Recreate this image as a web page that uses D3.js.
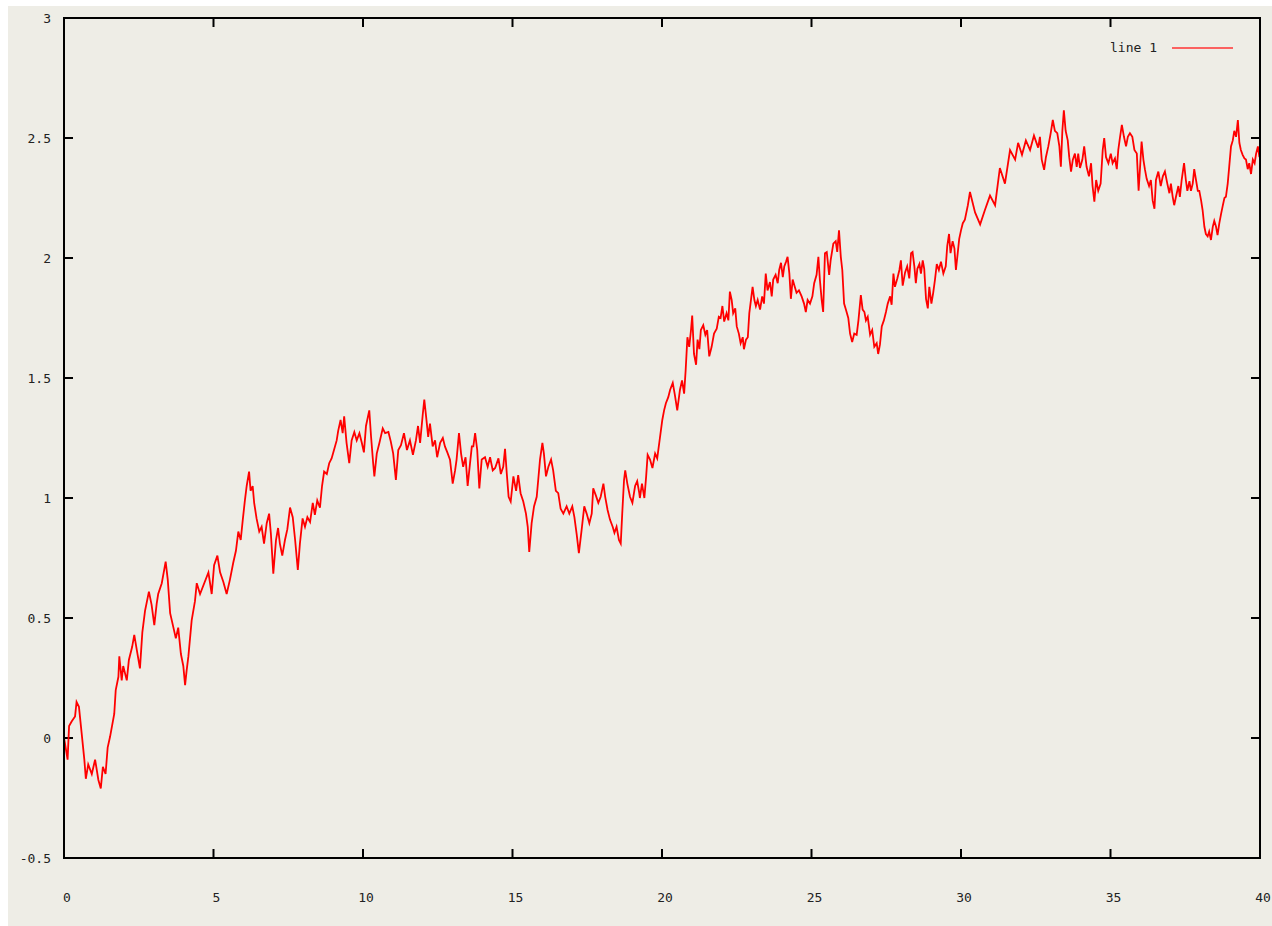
<!DOCTYPE html>
<html><head><meta charset="utf-8">
<script src="https://cdn.jsdelivr.net/npm/d3@7"></script>
<style>html,body{margin:0;padding:0;background:#fff;}svg{display:block;}</style>
</head><body>
<svg id="c" width="1272" height="926"></svg>
<script>
const xTicks = [0,5,10,15,20,25,30,35,40];
const yTicks = [-0.5,0,0.5,1,1.5,2,2.5,3];
const seriesName = "line 1";
const xs = [0,0.03,0.12,0.17,0.26,0.37,0.42,0.50,0.59,0.68,0.73,0.81,0.93,1.04,1.15,1.23,1.30,1.39,1.46,1.54,1.68,1.73,1.82,1.85,1.93,1.98,2.10,2.17,2.28,2.35,2.43,2.54,2.62,2.71,2.84,2.93,3.02,3.10,3.15,3.27,3.40,3.47,3.55,3.66,3.74,3.82,3.91,3.99,4.05,4.10,4.16,4.27,4.38,4.44,
4.55,4.83,4.94,5.02,5.13,5.22,5.33,5.44,5.55,5.66,5.75,5.83,5.91,5.98,6.05,6.11,6.19,6.24,6.31,6.36,6.44,6.53,6.61,6.69,6.78,6.86,6.92,7.00,7.09,7.16,7.22,7.30,7.39,7.47,7.56,7.65,7.73,7.82,7.89,7.98,8.06,8.14,8.23,8.32,8.39,8.47,8.56,8.63,8.70,8.79,8.87,8.95,9.03,9.12,9.17,9.25,9.32,9.37,9.45,9.54,9.62,9.71,9.79,9.88,9.96,10.03,10.10,10.21,10.27,10.34,10.38,10.46,10.55,10.66,10.74,10.85,10.93,11.01,11.10,11.18,
11.27,11.37,11.47,11.57,11.67,11.77,11.84,
11.91,12.00,12.05,12.11,12.18,12.24,12.33,12.41,12.48,12.58,12.67,12.74,12.82,12.91,13.00,13.08,13.13,13.21,13.28,13.35,13.43,13.50,13.58,13.64,13.69,13.75,13.82,13.89,13.97,14.08,14.17,14.25,14.34,14.42,14.53,14.61,14.69,14.75,14.81,14.87,14.94,15.03,15.12,15.19,15.27,15.36,15.45,15.51,15.56,15.64,15.72,15.81,15.86,15.92,16.00,16.05,16.12,16.20,16.29,16.36,16.45,16.53,16.61,16.70,16.81,16.90,17.00,17.07,17.15,17.22,17.31,17.40,17.48,17.57,17.65,17.70,17.79,17.87,17.95,18.04,18.10,18.18,18.26,18.35,18.41,18.48,18.56,18.62,18.67,18.73,18.77,18.84,18.93,19.01,19.10,19.17,19.24,
19.26,19.33,19.41,19.47,19.52,19.60,19.68,19.77,19.84,19.93,20.01,20.07,20.13,20.21,20.27,20.36,20.43,20.51,20.60,20.67,20.74,20.79,20.85,20.91,20.97,21.01,21.07,21.14,21.19,21.25,21.30,21.38,21.45,21.51,21.58,21.66,21.74,21.83,21.90,21.96,22.02,22.08,22.16,22.22,22.27,22.33,22.38,22.45,22.50,22.57,22.63,22.70,22.74,22.81,22.87,22.92,22.98,23.03,23.09,23.14,23.20,23.28,23.35,23.41,23.47,23.53,23.61,23.67,23.72,23.80,23.87,23.92,23.98,24.04,24.09,24.15,24.20,24.26,24.31,24.37,24.44,24.50,24.58,24.67,24.75,24.81,24.87,24.95,25.03,25.09,25.17,25.23,25.28,25.34,25.39,25.45,25.51,25.59,25.64,25.73,25.81,25.86,25.92,25.98,26.03,26.09,26.15,26.23,26.29,26.36,26.43,26.51,26.57,26.65,26.71,26.77,26.82,26.88,26.96,27.03,27.10,27.18,27.23,27.29,27.35,27.42,27.49,27.55,27.63,27.68,27.74,27.79,27.87,27.94,27.99,28.05,28.13,28.20,28.27,28.33,28.38,28.44,28.49,28.54,28.61,28.66,28.72,28.77,28.83,28.89,28.94,29.01,29.07,29.13,29.19,29.26,29.33,29.41,29.49,29.54,29.60,29.65,29.72,29.78,29.83,29.89,29.94,30.00,30.06,30.13,
30.23,30.30,30.47,30.64,30.80,30.97,31.14,31.30,31.47,31.64,31.81,31.91,32.04,32.17,32.31,32.44,32.58,
32.64,32.70,32.78,32.84,32.92,33.00,33.07,33.14,33.22,33.29,33.34,33.39,33.44,33.50,33.57,33.62,33.68,33.74,33.81,33.87,33.92,33.98,34.06,34.12,34.20,34.28,34.35,34.40,34.46,34.52,34.59,34.67,34.74,34.79,34.85,34.93,35.01,35.07,35.15,35.21,35.26,35.32,35.38,35.45,35.52,35.58,35.65,35.73,35.80,35.88,35.94,35.99,36.04,36.10,36.15,36.21,36.29,36.35,36.41,36.47,36.52,36.60,36.68,36.75,36.82,36.90,36.97,37.02,37.08,37.13,37.19,37.27,37.32,37.38,37.46,37.52,37.57,37.64,37.69,37.75,37.80,37.86,37.92,37.97,38.03,38.08,38.14,38.19,38.25,38.30,38.36,38.42,38.47,38.53,38.58,38.64,38.70,38.75,38.81,38.86,38.92,38.97,39.03,39.09,39.14,39.20,39.26,39.31,39.36,39.42,39.48,39.53,39.59,39.64,39.70,39.76,39.82,39.87,39.93,39.98];
const ys = [0,-0.02,-0.09,0.05,0.07,0.09,0.15,0.13,0.02,-0.09,-0.17,-0.11,-0.15,-0.09,-0.175,-0.21,-0.12,-0.15,-0.04,0.005,0.10,0.20,0.255,0.34,0.24,0.30,0.24,0.325,0.38,0.43,0.37,0.29,0.44,0.53,0.61,0.555,0.47,0.56,0.60,0.645,0.735,0.66,0.52,0.46,0.415,0.46,0.35,0.30,0.22,0.28,0.34,0.49,0.57,0.645,
0.60,0.69,0.60,0.72,0.76,0.69,0.65,0.60,0.66,0.73,0.78,0.86,0.825,0.91,0.99,1.05,1.11,1.03,1.05,0.98,0.915,0.86,0.88,0.81,0.895,0.935,0.85,0.685,0.825,0.875,0.81,0.76,0.825,0.87,0.96,0.92,0.825,0.70,0.81,0.915,0.88,0.92,0.90,0.98,0.93,0.99,0.96,1.05,1.11,1.10,1.145,1.165,1.20,1.24,1.28,1.325,1.27,1.34,1.23,1.145,1.24,1.275,1.24,1.27,1.23,1.19,1.30,1.365,1.255,1.145,1.09,1.185,1.23,1.29,1.27,1.275,1.235,1.185,1.075,1.20,
1.22,1.27,1.20,1.24,1.18,1.24,1.30,
1.23,1.35,1.41,1.34,1.255,1.31,1.215,1.24,1.17,1.23,1.25,1.215,1.19,1.16,1.06,1.115,1.16,1.27,1.185,1.13,1.17,1.05,1.145,1.215,1.215,1.27,1.20,1.04,1.16,1.17,1.13,1.17,1.115,1.125,1.165,1.10,1.13,1.205,1.10,1.005,0.985,1.09,1.03,1.095,1.02,0.985,0.935,0.88,0.775,0.895,0.965,1.005,1.075,1.16,1.23,1.185,1.09,1.13,1.16,1.115,1.03,1.02,0.955,0.935,0.965,0.935,0.965,0.92,0.845,0.77,0.865,0.965,0.935,0.895,0.935,1.04,1.01,0.98,1.005,1.06,1.005,0.95,0.91,0.88,0.855,0.88,0.825,0.81,0.935,1.075,1.115,1.06,1.005,0.98,1.05,1.07,1.02,
1.00,1.06,1.00,1.09,1.18,1.16,1.125,1.185,1.165,1.25,1.325,1.365,1.395,1.42,1.45,1.48,1.43,1.365,1.45,1.49,1.435,1.53,1.67,1.63,1.70,1.76,1.60,1.555,1.66,1.62,1.70,1.72,1.68,1.70,1.59,1.63,1.685,1.705,1.755,1.75,1.80,1.735,1.77,1.74,1.86,1.825,1.77,1.79,1.715,1.685,1.645,1.67,1.62,1.66,1.67,1.77,1.83,1.88,1.825,1.80,1.825,1.785,1.84,1.81,1.935,1.865,1.90,1.84,1.91,1.93,1.895,1.95,1.98,1.92,1.965,1.985,2.005,1.935,1.83,1.91,1.88,1.855,1.865,1.84,1.81,1.775,1.825,1.81,1.84,1.895,1.93,2.005,1.91,1.825,1.775,2.02,2.025,1.93,1.99,2.06,2.07,2.025,2.115,2.005,1.95,1.81,1.785,1.75,1.685,1.65,1.685,1.68,1.74,1.845,1.785,1.775,1.74,1.755,1.68,1.70,1.63,1.645,1.60,1.64,1.715,1.74,1.775,1.81,1.84,1.805,1.935,1.88,1.915,1.95,1.99,1.885,1.94,1.965,1.915,2.02,2.025,1.965,1.895,1.955,1.975,1.935,1.99,1.955,1.83,1.79,1.88,1.81,1.855,1.91,1.975,1.95,1.985,1.935,1.965,2.05,2.10,2.02,2.07,2.04,1.95,2.02,2.08,2.115,2.145,2.16,
2.22,2.275,2.19,2.14,2.20,2.26,2.22,2.375,2.31,2.45,2.41,2.48,2.43,2.49,2.45,2.51,2.46,
2.505,2.41,2.367,2.42,2.465,2.52,2.575,2.53,2.52,2.465,2.38,2.53,2.615,2.53,2.49,2.42,2.36,2.41,2.435,2.38,2.435,2.375,2.41,2.465,2.38,2.34,2.395,2.30,2.235,2.325,2.28,2.31,2.45,2.50,2.42,2.395,2.435,2.395,2.415,2.37,2.45,2.505,2.555,2.505,2.465,2.505,2.52,2.505,2.45,2.435,2.28,2.38,2.485,2.41,2.37,2.33,2.30,2.325,2.24,2.205,2.325,2.36,2.30,2.34,2.36,2.31,2.27,2.31,2.255,2.22,2.255,2.30,2.255,2.325,2.395,2.325,2.28,2.32,2.28,2.31,2.37,2.325,2.28,2.28,2.24,2.20,2.13,2.10,2.09,2.11,2.075,2.13,2.155,2.13,2.095,2.145,2.185,2.215,2.25,2.255,2.31,2.38,2.465,2.49,2.53,2.505,2.575,2.48,2.45,2.43,2.415,2.41,2.37,2.395,2.35,2.41,2.395,2.435,2.465,2.42];

const data = xs.map((x,i)=>({x, y: ys[i]}));

const svg = d3.select("#c");
svg.append("rect").attr("x",8).attr("y",6).attr("width",1264).attr("height",920).attr("fill","#eeede6");

const L=64, R=1260, T=18, B=858;
const x = d3.scaleLinear().domain([0,40]).range([L,R]);
const y = d3.scaleLinear().domain([-0.5,3]).range([B,T]);
const font = "'DejaVu Sans Mono', monospace";
const tickLen = 9;

// ticks (mirrored, inward)
const tk = svg.append("g").attr("stroke","#000").attr("stroke-width",2);
xTicks.forEach(v=>{
  tk.append("line").attr("x1",x(v)).attr("x2",x(v)).attr("y1",B).attr("y2",B-tickLen);
  tk.append("line").attr("x1",x(v)).attr("x2",x(v)).attr("y1",T).attr("y2",T+tickLen);
});
yTicks.forEach(v=>{
  tk.append("line").attr("x1",L).attr("x2",L+tickLen).attr("y1",y(v)).attr("y2",y(v));
  tk.append("line").attr("x1",R).attr("x2",R-tickLen).attr("y1",y(v)).attr("y2",y(v));
});

// labels
svg.append("g").selectAll("text").data(xTicks).join("text")
  .attr("x",d=>x(d)+3).attr("y",902).attr("text-anchor","middle")
  .attr("font-family",font).attr("font-size",13).attr("fill","#222").text(d=>String(d));
svg.append("g").selectAll("text").data(yTicks).join("text")
  .attr("x",51).attr("y",d=>y(d)+5).attr("text-anchor","end")
  .attr("font-family",font).attr("font-size",13).attr("fill","#222").text(d=>String(d));

// line
const line = d3.line().x(d=>x(d.x)).y(d=>y(d.y));
svg.append("path").datum(data).attr("d",line).attr("fill","none")
  .attr("stroke","#ff0000").attr("stroke-width",1.8).attr("stroke-linejoin","miter");

// frame
svg.append("rect").attr("x",L).attr("y",T).attr("width",R-L).attr("height",B-T)
  .attr("fill","none").attr("stroke","#000").attr("stroke-width",2);

// legend
svg.append("text").attr("x",1157).attr("y",52).attr("text-anchor","end")
  .attr("font-family",font).attr("font-size",13).attr("fill","#222").text(seriesName);
svg.append("line").attr("x1",1172).attr("x2",1233).attr("y1",48).attr("y2",48)
  .attr("stroke","#ff3333").attr("stroke-width",1.3);
</script>
</body></html>
